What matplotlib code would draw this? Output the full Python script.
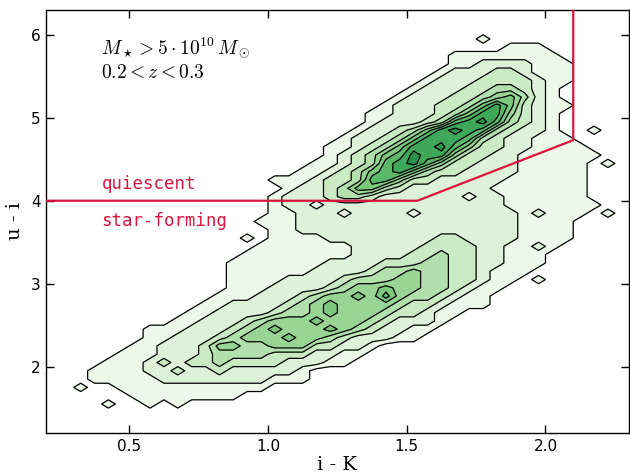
import numpy as np
import matplotlib
matplotlib.use("Agg")
import matplotlib.pyplot as plt

plt.rcParams["mathtext.fontset"] = "cm"

# ---- data: binned galaxy density (contour level index per bin) ----
# i-K bins: centres start at 0.225, width 0.05 (42 bins)
ik_first_centre = 0.225
ik_bin_width = 0.05
n_ik_bins = 42
# u-i bins: centres start at 1.25, width 0.1 (51 bins)
ui_first_centre = 1.25
ui_bin_width = 0.1
n_ui_bins = 51

# rows from u-i = 1.25 (bottom) upward; each digit = level reached in that bin
density_rows = [
    "0000000000 0000000000 0000000000 0000000000 00",  # 1.25
    "0000000000 0000000000 0000000000 0000000000 00",  # 1.35
    "0000000000 0000000000 0000000000 0000000000 00",  # 1.45
    "0000100101 0000000000 0000000000 0000000000 00",  # 1.55
    "0000001111 1111000000 0000000000 0000000000 00",  # 1.65
    "0010011111 1111110000 0000000000 0000000000 00",  # 1.75
    "0001111122 2222221110 0000000000 0000000000 00",  # 1.85
    "0001111223 2232222210 0000000000 0000000000 00",  # 1.95
    "0000111232 3343333222 1100000000 0000000000 00",  # 2.05
    "0000011122 2344443332 2110000000 0000000000 00",  # 2.15
    "0000001122 2355445553 3221000000 0000000000 00",  # 2.25
    "0000000112 2234555655 4322211000 0000000000 00",  # 2.35
    "0000000111 2223456555 6543221100 0000000000 00",  # 2.45
    "0000000001 1222345556 5554322210 0000000000 00",  # 2.55
    "0000000000 1122223445 6555433211 0000000000 00",  # 2.65
    "0000000000 0112222345 6555543321 1100000000 00",  # 2.75
    "0000000000 0011122234 5565754432 1100000000 00",  # 2.85
    "0000000000 0001112222 3455655443 2110000000 00",  # 2.95
    "0000000000 0001111222 2344455443 3211010000 00",  # 3.05
    "0000000000 0001111112 2223445443 3211100000 00",  # 3.15
    "0000000000 0001111111 2222333443 3221110000 00",  # 3.25
    "0000000000 0000111111 1122223343 3221110000 00",  # 3.35
    "0000000000 0000011111 1122222333 3221121000 00",  # 3.45
    "0000000000 0000101111 2222222233 2222111100 00",  # 3.55
    "0000000000 0000001122 2222222222 2222111100 00",  # 3.65
    "0000000000 0000011122 2222222222 2222111100 00",  # 3.75
    "0000000000 0000001122 2122221222 2222121110 10",  # 3.85
    "0000000000 0000001221 2222222222 2221111111 00",  # 3.95
    "0000000000 0000001222 3443222222 1221111110 00",  # 4.05
    "0000000000 0000000122 3466432222 2211111110 00",  # 4.15
    "0000000000 0000001112 3347753322 2221111110 00",  # 4.25
    "0000000000 0000000011 2346786433 2222111110 00",  # 4.35
    "0000000000 0000000001 1234789753 3222111110 10",  # 4.45
    "0000000000 0000000000 1234679885 3322111111 00",  # 4.55
    "0000000000 0000000000 1123468897 5332211110 00",  # 4.65
    "0000000000 0000000000 0122346888 7432211100 00",  # 4.75
    "0000000000 0000000000 0012234689 8743221001 00",  # 4.85
    "0000000000 0000000000 0001222347 8974321000 00",  # 4.95
    "0000000000 0000000000 0001122234 6885321000 00",  # 5.05
    "0000000000 0000000000 0000122233 4686321100 00",  # 5.15
    "0000000000 0000000000 0000012223 3456421000 00",  # 5.25
    "0000000000 0000000000 0000001222 3344321000 00",  # 5.35
    "0000000000 0000000000 0000000122 2333321100 00",  # 5.45
    "0000000000 0000000000 0000000012 2233211100 00",  # 5.55
    "0000000000 0000000000 0000000001 1222211100 00",  # 5.65
    "0000000000 0000000000 0000000001 1111111000 00",  # 5.75
    "0000000000 0000000000 0000000000 0001110000 00",  # 5.85
    "0000000000 0000000000 0000000000 0100000000 00",  # 5.95
    "0000000000 0000000000 0000000000 0000000000 00",  # 6.05
    "0000000000 0000000000 0000000000 0000000000 00",  # 6.15
    "0000000000 0000000000 0000000000 0000000000 00",  # 6.25
]

contour_levels = [0.5, 1.5, 2.5, 3.5, 4.5, 5.5, 6.5, 7.5, 8.5, 9.5]

# quiescent / star-forming boundary
boundary_ik = [0.2, 1.5385, 2.1, 2.1]
boundary_ui = [4.0, 4.0, 4.73, 6.3]

x_ticks = [0.5, 1.0, 1.5, 2.0]
x_tick_labels = ["0.5", "1.0", "1.5", "2.0"]
y_ticks = [2, 3, 4, 5, 6]
y_tick_labels = ["2", "3", "4", "5", "6"]

# ---- build grid ----
Z = np.array([[int(c) for c in row.replace(" ", "")] for row in density_rows], dtype=float)
xc = ik_first_centre + ik_bin_width * np.arange(n_ik_bins)
yc = ui_first_centre + ui_bin_width * np.arange(n_ui_bins)
X, Y = np.meshgrid(xc, yc)

fig = plt.figure(figsize=(6.3, 4.74), dpi=100)
ax = fig.add_axes([0.073, 0.0865, 0.925, 0.8925])

fill_colors = [plt.cm.Greens(0.08 * k) for k in range(1, 10)]
ax.contourf(X, Y, Z, levels=contour_levels, colors=fill_colors)
ax.contour(X, Y, Z, levels=contour_levels, colors="black", linewidths=0.9)

red = "#dc143c"
ax.plot(boundary_ik, boundary_ui, color=red, lw=1.6, zorder=5)

ax.text(0.4, 4.2, "quiescent", color=red, family="DejaVu Sans Mono",
        fontsize=12.5, va="center", ha="left")
ax.text(0.4, 3.76, "star-forming", color=red, family="DejaVu Sans Mono",
        fontsize=12.5, va="center", ha="left")

ax.text(0.4, 5.84, r"$M_\star > 5\cdot10^{10}\,M_\odot$", fontsize=14,
        va="center", ha="left")
ax.text(0.4, 5.54, r"$0.2 < z < 0.3$", fontsize=14, va="center", ha="left")

ax.set_xlim(0.2, 2.3)
ax.set_ylim(1.2, 6.3)
ax.set_xticks(x_ticks)
ax.set_xticklabels(x_tick_labels)
ax.set_yticks(y_ticks)
ax.set_yticklabels(y_tick_labels)
ax.tick_params(direction="in", top=True, right=True, length=6, width=1,
               labelsize=11, pad=4)
for s in ax.spines.values():
    s.set_linewidth(1.0)

ax.set_xlabel("i - K", family="DejaVu Serif", fontsize=14, labelpad=2)
ax.set_ylabel("u - i", family="DejaVu Serif", fontsize=14, labelpad=5)

fig.savefig("out.png", dpi=100)
